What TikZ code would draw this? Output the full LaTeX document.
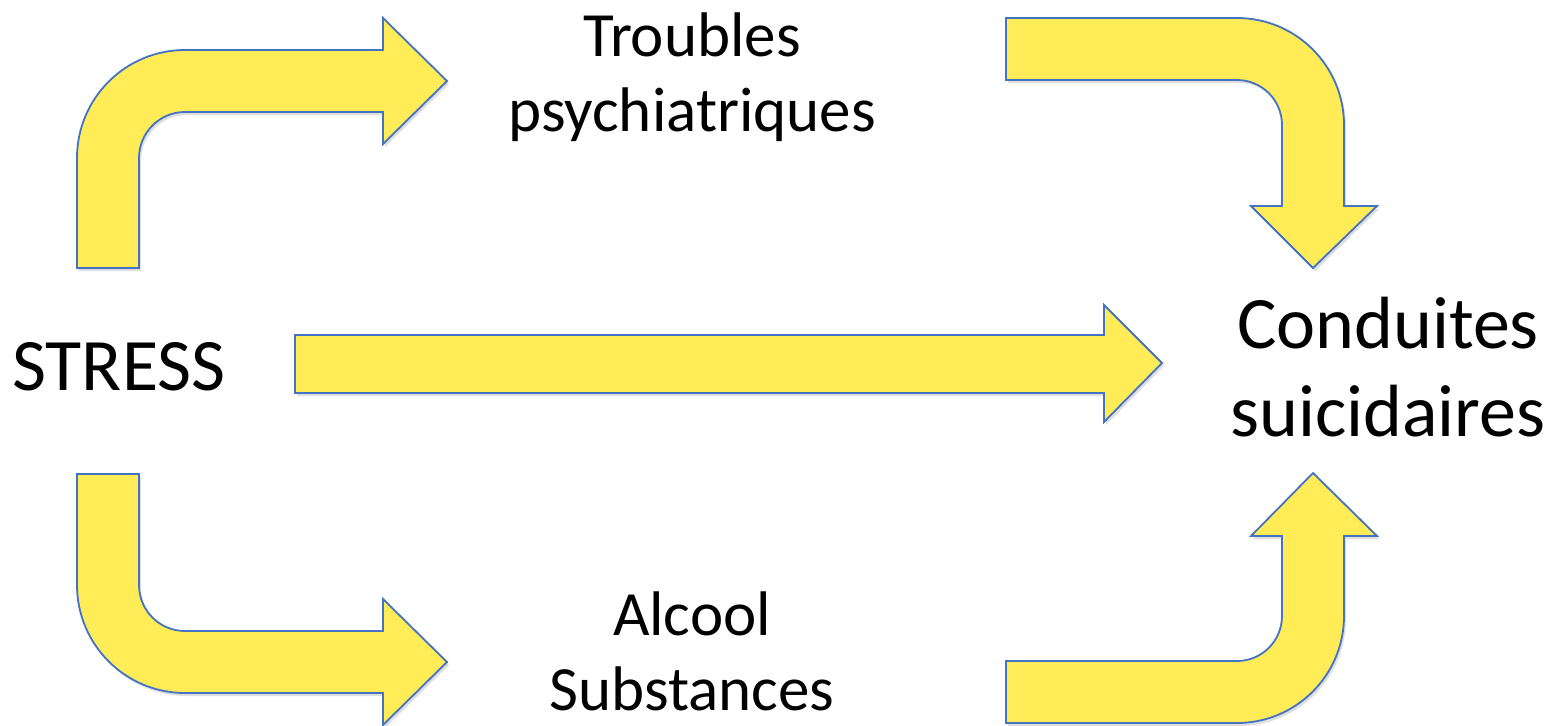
\documentclass[tikz,border=0pt]{standalone}
\usepackage{fontspec}
\setmainfont{Carlito}
\usetikzlibrary{shadows}
\definecolor{arwyellow}{RGB}{255,236,86}
\definecolor{arwblue}{RGB}{68,114,196}
\begin{document}
\begin{tikzpicture}[x=0.5pt,y=-0.5pt,
 blk/.style={fill=arwyellow,draw=arwblue,line width=.9pt,drop shadow={shadow xshift=1pt,shadow yshift=-1.5pt,opacity=.25}},
 big/.style={font=\fontsize{37}{44}\selectfont,align=center,inner sep=0pt},
 sml/.style={font=\fontsize{31.5}{37.5}\selectfont,align=center,inner sep=0pt}]
\useasboundingbox (0,0) rectangle (1558,725);
% labels
\node[big,anchor=base west] (stress) at (12,390) {STRESS};
\node[sml] (troubles) at (692,77) {Troubles\\psychiatriques};
\node[sml] (alcool) at (692,651) {Alcool\\Substances};
\node[big] (conduites) at (1388,367) {Conduites\\suicidaires};
% bent arrows
\draw[blk] (77,268) -- (77,158) arc[start angle=180,end angle=270,radius=108] -- (383,50) -- (383,18) -- (447,81) -- (383,144) -- (383,112) -- (185,112) arc[start angle=270,end angle=180,radius=46] -- (139,268) -- cycle;
\draw[blk] (1006,18) -- (1237,18) arc[start angle=270,end angle=360,radius=107] -- (1344,206) -- (1377,206) -- (1313,268) -- (1251,206) -- (1282,206) -- (1282,125) arc[start angle=0,end angle=-90,radius=45] -- (1006,80) -- cycle;
\draw[blk] (77,474) -- (77,585) arc[start angle=180,end angle=90,radius=108] -- (383,693) -- (383,725) -- (447,662) -- (383,599) -- (383,631) -- (185,631) arc[start angle=90,end angle=180,radius=46] -- (139,474) -- cycle;
\draw[blk] (1006,723) -- (1237,723) arc[start angle=90,end angle=0,radius=107] -- (1344,536) -- (1377,536) -- (1313,473) -- (1251,536) -- (1282,536) -- (1282,616) arc[start angle=0,end angle=90,radius=45] -- (1006,661) -- cycle;
% straight arrow
\draw[blk] (295,335) -- (1104,335) -- (1104,305) -- (1162,363) -- (1104,422) -- (1104,393) -- (295,393) -- cycle;
\end{tikzpicture}
\end{document}
